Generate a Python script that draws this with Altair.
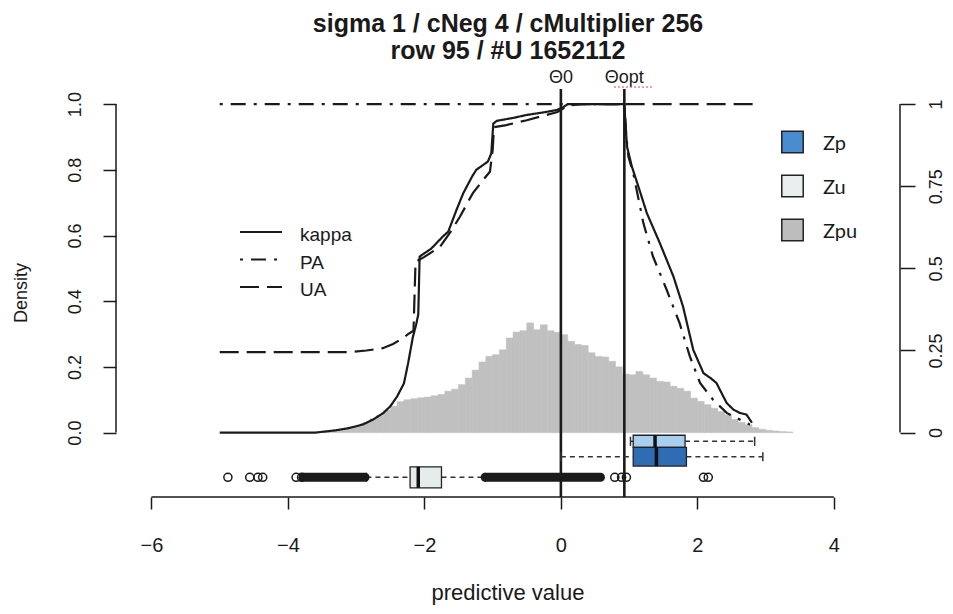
import altair as alt
import pandas as pd

# ---------------- data ----------------
title_lines = ["sigma 1 / cNeg 4 / cMultiplier 256", "row 95 / #U 1652112"]
x_title = "predictive value"
y_title = "Density"

x_ticks = [-6, -4, -2, 0, 2, 4]
y_ticks_left = [0.0, 0.2, 0.4, 0.6, 0.8, 1.0]
y_ticks_right = [0, 0.25, 0.5, 0.75, 1]

# histogram of Zpu (bin start, density)
hist_start = [-3.5, -3.4, -3.3, -3.2, -3.1, -3.0, -2.9, -2.8, -2.7, -2.6,
              -2.5, -2.4, -2.3, -2.2, -2.1, -2.0, -1.9, -1.8, -1.7, -1.6,
              -1.5, -1.4, -1.3, -1.2, -1.1, -1.0, -0.9, -0.8, -0.7, -0.6,
              -0.5, -0.4, -0.3, -0.2, -0.1, 0.0, 0.1, 0.2, 0.3, 0.4,
              0.5, 0.6, 0.7, 0.8, 0.9, 1.0, 1.1, 1.2, 1.3, 1.4,
              1.5, 1.6, 1.7, 1.8, 1.9, 2.0, 2.1, 2.2, 2.3, 2.4,
              2.5, 2.6, 2.7, 2.8, 2.9, 3.0, 3.1, 3.2, 3.3]
hist_height = [0.003, 0.005, 0.008, 0.012, 0.018, 0.022, 0.030, 0.042, 0.052, 0.068,
               0.080, 0.094, 0.100, 0.103, 0.106, 0.108, 0.112, 0.116, 0.126, 0.132,
               0.146, 0.166, 0.190, 0.215, 0.232, 0.237, 0.252, 0.288, 0.306, 0.310,
               0.334, 0.313, 0.328, 0.310, 0.305, 0.298, 0.278, 0.268, 0.265, 0.243,
               0.232, 0.230, 0.217, 0.200, 0.178, 0.176, 0.186, 0.176, 0.166, 0.156,
               0.154, 0.141, 0.135, 0.126, 0.105, 0.095, 0.085, 0.074, 0.064, 0.054,
               0.040, 0.031, 0.024, 0.015, 0.010, 0.007, 0.005, 0.003, 0.002]
hist_binwidth = 0.1

kappa_x = [-5.0, -3.6, -3.3, -3.1, -2.9, -2.75, -2.6, -2.5, -2.4, -2.3, -2.24, -2.17,
           -2.12, -2.09, -2.07, -1.9, -1.73, -1.65, -1.53, -1.43, -1.3, -1.24, -1.07,
           -1.02, -0.99, -0.94, -0.7, -0.5, -0.25, -0.06, 0.03, 0.1, 0.5, 0.93,
           0.95, 0.97, 1.04, 1.15, 1.26, 1.45, 1.65, 1.79, 1.94, 2.09, 2.2, 2.28,
           2.43, 2.53, 2.62, 2.72, 2.8]
kappa_y = [0.0, 0.0, 0.007, 0.014, 0.025, 0.04, 0.06, 0.08, 0.11, 0.15, 0.21, 0.29,
           0.33, 0.36, 0.536, 0.56, 0.597, 0.612, 0.678, 0.729, 0.78, 0.80, 0.825,
           0.85, 0.941, 0.949, 0.958, 0.967, 0.975, 0.982, 0.99, 1.0, 1.0, 1.0,
           0.93, 0.87, 0.81, 0.74, 0.668, 0.577, 0.475, 0.384, 0.252, 0.181, 0.165, 0.151,
           0.09, 0.07, 0.06, 0.055, 0.03]

pa_x = [-5.0, 0.93, 0.96, 0.99, 1.06, 1.21, 1.35, 1.55, 1.74, 1.89, 2.04, 2.23,
        2.43, 2.62, 2.77]
pa_y = [1.0, 1.0, 0.90, 0.84, 0.79, 0.637, 0.536, 0.435, 0.333, 0.232, 0.151, 0.10,
        0.06, 0.04, 0.024]

ua_x = [-5.0, -3.1, -2.85, -2.61, -2.46, -2.31, -2.24, -2.16, -2.13, -2.0, -1.77,
        -1.63, -1.48, -1.29, -1.14, -1.04, -1.0, -0.98, -0.8, -0.5, -0.3, -0.05,
        0.1, 0.3, 0.93, 2.84]
ua_y = [0.245, 0.245, 0.25, 0.257, 0.27, 0.288, 0.30, 0.31, 0.52, 0.535, 0.566,
        0.607, 0.657, 0.729, 0.769, 0.794, 0.86, 0.93, 0.936, 0.951, 0.962, 0.976,
        0.995, 1.0, 1.0, 1.0]

theta_labels = ["\u03980", "\u0398opt"]
theta_values = [0.0, 0.93]

# boxplots: two Zp boxes (stacked) and Zu
box_names = ["Zp a", "Zp b", "Zu"]
box_at = [-0.0265, -0.0735, -0.136]
box_q1 = [1.06, 1.06, -2.21]
box_med = [1.38, 1.40, -2.09]
box_q3 = [1.82, 1.84, -1.75]
box_lo = [1.02, 0.0, -2.85]
box_hi = [2.84, 2.96, -1.11]

zu_outliers = [-4.88, -4.56, -4.44, -4.37, -3.88, -3.80, 0.79, 0.89, 0.96, 2.09, 2.16]
zu_outlier_runs_lo = [-3.78, -1.11]
zu_outlier_runs_hi = [-2.87, 0.58]

curve_legend = ["kappa", "PA", "UA"]
fill_legend = ["Zp", "Zu", "Zpu"]

# ---------------- style ----------------
W, H = 784, 408
FONT = "Liberation Sans"
INK = "#1a1a1a"
box_half = [0.0185, 0.0285, 0.032]
box_fill = ["#A9CFEE", "#2E6DB4", "#E6ECEC"]
fill_legend_colors = ["#4A8CD2", "#E9EEEE", "#BDBDBD"]
dashes = [[1, 0], [3, 8, 15, 8], [19, 8]]

x_scale = alt.Scale(domain=[-6.52, 4.97], nice=False, zero=False)
y_scale = alt.Scale(domain=[-0.196, 1.046], nice=False, zero=False)

x_axis = alt.Axis(values=x_ticks, domain=False, grid=False, title=None,
                  tickSize=12, tickWidth=1.5, tickColor=INK,
                  labelFont=FONT, labelFontSize=20, labelColor=INK,
                  labelPadding=36, labelBaseline="middle", labelFlush=False, format="d")
y_axis_left = alt.Axis(values=y_ticks_left, format=".1f", domain=False, grid=False,
                       title=None, tickSize=13, tickWidth=1.5, tickColor=INK,
                       labelFont=FONT, labelFontSize=18, labelColor=INK,
                       labelAngle=270, labelAlign="center", labelBaseline="middle",
                       labelPadding=28, labelFlush=False)
y_axis_right = alt.Axis(orient="right", values=y_ticks_right, labelExpr="datum.value + ''",
                        domain=False, grid=False, title=None, tickSize=15, tickWidth=1.5,
                        tickColor=INK, labelFont=FONT, labelFontSize=18, labelColor=INK,
                        labelAngle=270, labelAlign="center", labelBaseline="middle",
                        labelPadding=21, labelFlush=False)


def X(f, **kw):
    return alt.X(f, type="quantitative", scale=x_scale, axis=x_axis, **kw)


def Y(f, **kw):
    return alt.Y(f, type="quantitative", scale=y_scale, axis=y_axis_left, **kw)


# ---------------- layers ----------------
hist_df = pd.DataFrame({"start": hist_start, "h": hist_height})
hist = alt.Chart(hist_df).transform_calculate(
    end=f"datum.start + {hist_binwidth}"
).mark_rect(color="#C0C0C0", stroke="#C0C0C0", strokeWidth=0.6).encode(
    x=X("start"), x2="end:Q", y=Y("h"), y2=alt.datum(0),
)

curve_rows = []
for name, xs, ys in [("kappa", kappa_x, kappa_y), ("PA", pa_x, pa_y), ("UA", ua_x, ua_y)]:
    for i, (a, b) in enumerate(zip(xs, ys)):
        curve_rows.append({"series": name, "x": a, "y": b, "i": i})
curve_df = pd.DataFrame(curve_rows)
curves = alt.Chart(curve_df).mark_line(color=INK, strokeWidth=2.2).encode(
    x=X("x"), y=Y("y"), detail="series:N", order="i:Q",
    strokeDash=alt.StrokeDash("series:N", scale=alt.Scale(domain=curve_legend, range=dashes),
                              legend=None),
)

theta_df = pd.DataFrame({"label": theta_labels, "v": theta_values})
vlines = alt.Chart(theta_df).mark_rule(color=INK, strokeWidth=2.6).encode(
    x=X("v"), y=alt.value(0), y2=alt.value(H))
theta_text = alt.Chart(theta_df).mark_text(font=FONT, fontSize=18, color=INK,
                                          align="center", baseline="alphabetic").encode(
    x=X("v"), y=alt.value(-6), text="label:N")
# red spell-check squiggle under "opt" seen in the reference screenshot
squiggle = alt.Chart(theta_df.iloc[[1]]).mark_rule(color="#e04040", strokeWidth=1.2,
                                                  strokeDash=[2, 2]).encode(
    x=alt.value(498), x2=alt.value(536), y=alt.value(-2))

box_df = pd.DataFrame({"name": box_names, "at": box_at, "half": box_half,
                       "q1": box_q1, "med": box_med, "q3": box_q3,
                       "lo": box_lo, "hi": box_hi, "fill": box_fill})
box_base = alt.Chart(box_df).transform_calculate(
    top="datum.at + datum.half", bot="datum.at - datum.half",
    ctop="datum.at + 0.014", cbot="datum.at - 0.014")
whisk_lo = box_base.mark_rule(color="#333", strokeWidth=1.5, strokeDash=[5, 4]).encode(
    x=X("lo"), x2="q1:Q", y=Y("at"))
whisk_hi = box_base.mark_rule(color="#333", strokeWidth=1.5, strokeDash=[5, 4]).encode(
    x=X("q3"), x2="hi:Q", y=Y("at"))
cap_lo = box_base.mark_rule(color="#333", strokeWidth=1.5).encode(
    x=X("lo"), y=Y("cbot"), y2="ctop:Q")
cap_hi = box_base.mark_rule(color="#333", strokeWidth=1.5).encode(
    x=X("hi"), y=Y("cbot"), y2="ctop:Q")
rects = box_base.mark_rect(stroke="#222", strokeWidth=1.3).encode(
    x=X("q1"), x2="q3:Q", y=Y("bot"), y2="top:Q", fill=alt.Fill("fill:N", scale=None))
medians = box_base.mark_rule(color="#111", strokeWidth=3.5).encode(
    x=X("med"), y=Y("bot"), y2="top:Q")

runs_df = pd.DataFrame({"lo": zu_outlier_runs_lo, "hi": zu_outlier_runs_hi, "at": box_at[2]})
runs = alt.Chart(runs_df).mark_rule(color=INK, strokeWidth=9, strokeCap="round").encode(
    x=X("lo"), x2="hi:Q", y=Y("at"))
out_df = pd.DataFrame({"v": zu_outliers, "at": box_at[2]})
outs = alt.Chart(out_df).mark_point(shape="circle", filled=False, color=INK,
                                    strokeWidth=1.5, size=66, opacity=1).encode(
    x=X("v"), y=Y("at"))

dom_df = pd.DataFrame({"x0": [x_ticks[0]], "x1": [x_ticks[-1]],
                       "y0": [y_ticks_left[0]], "y1": [y_ticks_left[-1]]})
bottom_dom = alt.Chart(dom_df).mark_rule(color=INK, strokeWidth=1.5).encode(
    x=X("x0"), x2="x1:Q", y=alt.value(H))
left_dom = alt.Chart(dom_df).mark_rule(color=INK, strokeWidth=1.5).encode(
    x=alt.value(0), y=Y("y0"), y2="y1:Q")

text_layers = []
for t, yy in zip(title_lines, [-57, -30]):
    text_layers.append(alt.Chart(pd.DataFrame({"t": [t]})).mark_text(
        font=FONT, fontSize=25, fontWeight="bold", color=INK, align="center",
        baseline="alphabetic").encode(x=alt.value(W / 2), y=alt.value(yy), text="t:N"))
text_layers.append(alt.Chart(pd.DataFrame({"t": [x_title]})).mark_text(
    font=FONT, fontSize=22, color=INK, align="center", baseline="middle").encode(
    x=alt.value(W / 2), y=alt.value(504), text="t:N"))
text_layers.append(alt.Chart(pd.DataFrame({"t": [y_title]})).mark_text(
    font=FONT, fontSize=18, color=INK, align="center", baseline="middle", angle=270).encode(
    x=alt.value(-94), y=alt.value(H / 2), text="t:N"))

legend_layers = []
for i, name in enumerate(curve_legend):
    d = pd.DataFrame({"t": [name]})
    legend_layers.append(alt.Chart(d).mark_rule(color=INK, strokeWidth=2.2,
                                                strokeDash=dashes[i]).encode(
        x=alt.value(124), x2=alt.value(166), y=alt.value(143 + 27.5 * i)))
    legend_layers.append(alt.Chart(d).mark_text(font=FONT, fontSize=19, color=INK,
                                                align="left", baseline="middle").encode(
        x=alt.value(184), y=alt.value(146 + 27.5 * i), text="t:N"))
for i, name in enumerate(fill_legend):
    d = pd.DataFrame({"t": [name]})
    legend_layers.append(alt.Chart(d).mark_square(size=460, fill=fill_legend_colors[i],
                                                  stroke="#222", strokeWidth=1.5,
                                                  opacity=1).encode(
        x=alt.value(676.5), y=alt.value(53 + 44 * i)))
    legend_layers.append(alt.Chart(d).mark_text(font="Lato", fontSize=20, color=INK,
                                                align="left", baseline="middle").encode(
        x=alt.value(707), y=alt.value(55 + 44 * i), text="t:N"))

main = alt.layer(hist, curves, vlines, whisk_lo, whisk_hi, cap_lo, cap_hi, rects, medians,
                 runs, outs, bottom_dom, left_dom, theta_text, squiggle,
                 *text_layers, *legend_layers)

right_df = pd.DataFrame({"a": [y_ticks_right[0]], "b": [y_ticks_right[-1]]})
right = alt.Chart(right_df).mark_rule(color=INK, strokeWidth=1.5).encode(
    x=alt.value(W),
    y=alt.Y("a:Q", scale=y_scale, axis=y_axis_right),
    y2="b:Q",
)

chart = alt.layer(main, right).resolve_scale(y="independent").properties(
    width=W, height=H,
    padding={"left": 108, "top": 81, "right": 45, "bottom": 108},
    autosize=alt.AutoSizeParams(type="none"),
).configure_view(stroke=None)

chart.save("out.html", embed_options={"renderer": "svg", "actions": False})
